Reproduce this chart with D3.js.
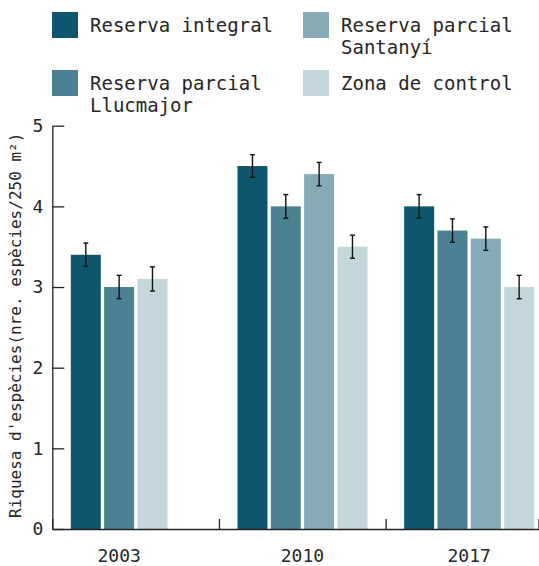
<!DOCTYPE html>
<html><head><meta charset="utf-8">
<script src="https://cdn.jsdelivr.net/npm/d3@7"></script>
<style>
body{margin:0;background:#fff}
svg{display:block}
text{font-family:"DejaVu Sans Mono",monospace;fill:#262626}
</style>
</head><body>
<svg id="chart" width="539" height="566"></svg>
<script>
// ---- data ----
const years = ["2003", "2010", "2017"];
const seriesNames = ["Reserva integral", "Reserva parcial Llucmajor", "Reserva parcial Santanyí", "Zona de control"];
const legendLines = [["Reserva integral"], ["Reserva parcial", "Llucmajor"], ["Reserva parcial", "Santanyí"], ["Zona de control"]];
const seriesColors = ["#0e566d", "#4a8293", "#87abb6", "#c3d6dc"];
const values2003 = [3.4, 3.0, null, 3.1];
const values2010 = [4.5, 4.0, 4.4, 3.5];
const values2017 = [4.0, 3.7, 3.6, 3.0];
const errors2003 = [0.145, 0.145, null, 0.15];
const errors2010 = [0.14, 0.146, 0.145, 0.143];
const errors2017 = [0.146, 0.145, 0.145, 0.145];
const yTicks = [0, 1, 2, 3, 4, 5];
const yLabel = "Riquesa d'espècies(nre. espècies/250 m²)";

const valuesByYear = [values2003, values2010, values2017];
const errorsByYear = [errors2003, errors2010, errors2017];

// ---- layout ----
const W = 539, H = 566;
const plotLeft = 52.3, plotBottom = 529, plotTop = 125.7;
const svg = d3.select("#chart");

const y = d3.scaleLinear().domain([0, 5]).range([plotBottom, plotTop]);
const x0 = d3.scaleBand().domain(years).range([plotLeft, plotLeft + 500]).padding(0);
const x1 = d3.scaleBand().domain(d3.range(4)).range([18.5, 148.5]).paddingInner(0.1);
const xb = d3.scaleLinear().domain([0, years.length]).range(x0.range());

// build bar records (missing series are skipped; remaining bars are packed)
const bars = [];
const groupCenters = [];
years.forEach((yr, gi) => {
  const present = seriesNames.map((s, si) => si).filter(si => valuesByYear[gi][si] != null);
  present.forEach((si, k) => {
    bars.push({year: yr, series: si, value: valuesByYear[gi][si], err: errorsByYear[gi][si],
               x: x0(yr) + x1(k), w: x1.bandwidth()});
  });
  const first = x0(yr) + x1(0), last = x0(yr) + x1(present.length - 1) + x1.bandwidth();
  groupCenters.push({year: yr, cx: (first + last) / 2});
});

// bars
svg.append("g").selectAll("rect").data(bars).join("rect")
  .attr("x", d => d.x).attr("width", d => d.w)
  .attr("y", d => y(d.value)).attr("height", d => y(0) - y(d.value))
  .attr("fill", d => seriesColors[d.series]);

// error bars
const eb = svg.append("g").attr("stroke", "#111").attr("stroke-width", 1.4);
bars.forEach(d => {
  const cx = d.x + d.w / 2;
  eb.append("line").attr("x1", cx).attr("x2", cx).attr("y1", y(d.value + d.err)).attr("y2", y(d.value - d.err));
  eb.append("line").attr("x1", cx - 2.5).attr("x2", cx + 2.5).attr("y1", y(d.value + d.err)).attr("y2", y(d.value + d.err));
  eb.append("line").attr("x1", cx - 2.5).attr("x2", cx + 2.5).attr("y1", y(d.value - d.err)).attr("y2", y(d.value - d.err));
});

// y axis
const yAxis = svg.append("g").attr("transform", `translate(${plotLeft},0)`)
  .call(d3.axisLeft(y).tickValues(yTicks).tickSize(-12).tickSizeOuter(0).tickPadding(9).tickFormat(d3.format("d")));
yAxis.selectAll("text").style("font-size", "18px").style("font-family", '"DejaVu Sans Mono",monospace').attr("fill", "#262626");
yAxis.selectAll("path,line").attr("stroke", "#222").attr("stroke-width", 1.3);

// x axis (ticks at group boundaries, pointing inward)
const xAxis = svg.append("g").attr("transform", `translate(0,${plotBottom})`)
  .call(d3.axisBottom(xb).tickValues(d3.range(years.length).concat([xb.invert(W - 0.5)]))
    .tickSize(-10).tickSizeOuter(0).tickFormat(""));
xAxis.selectAll("path,line").attr("stroke", "#222").attr("stroke-width", 1.3);

// x labels
svg.append("g").selectAll("text").data(groupCenters).join("text")
  .attr("x", d => d.cx).attr("y", 561.5).attr("text-anchor", "middle")
  .style("font-size", "18px").text(d => d.year);

// y label
svg.append("text").attr("transform", `translate(21,${(plotBottom + plotTop) / 2 - 2}) rotate(-90)`)
  .attr("text-anchor", "middle").style("font-size", "16px").text(yLabel);

// legend (column-major, 2 rows)
const lg = svg.append("g");
seriesNames.forEach((s, i) => {
  const col = Math.floor(i / 2), row = i % 2;
  const lx = 52 + col * 251, ly = 12 + row * 58;
  lg.append("rect").attr("x", lx).attr("y", ly).attr("width", 26).attr("height", 26).attr("fill", seriesColors[i]);
  legendLines[i].forEach((t, li) => {
    lg.append("text").attr("x", lx + 38).attr("y", ly + 19.7 + li * 22).style("font-size", "19px").text(t);
  });
});
</script>
</body></html>
